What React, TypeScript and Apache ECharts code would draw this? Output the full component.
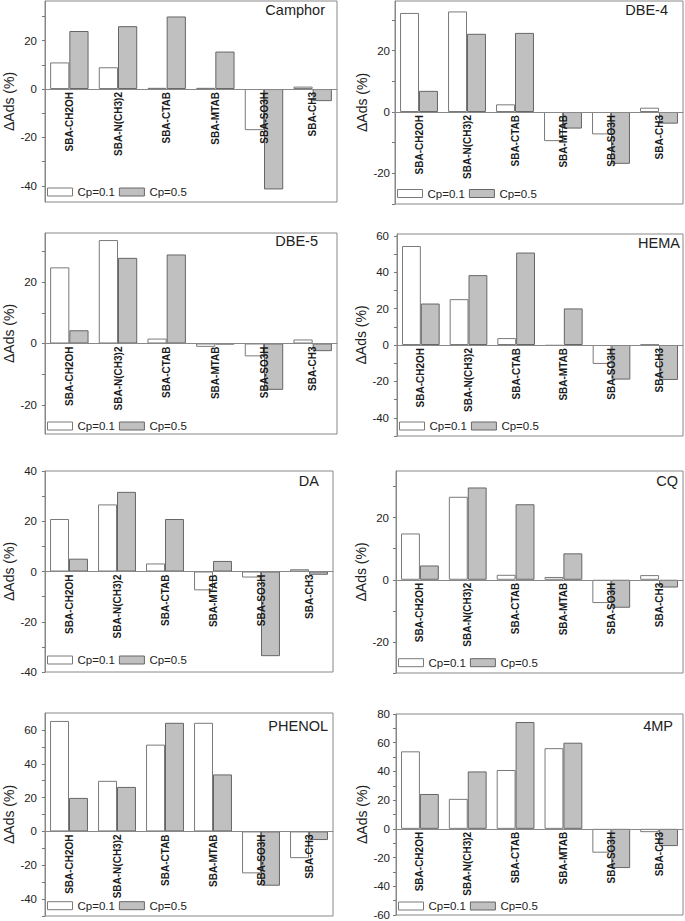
import React, { useEffect, useRef } from 'react';
import * as echarts from 'echarts';

const categories = ['SBA-CH2OH', 'SBA-N(CH3)2', 'SBA-CTAB', 'SBA-MTAB', 'SBA-SO3H', 'SBA-CH3'];
const seriesNames = ['Cp=0.1', 'Cp=0.5'];
const panelTitles = ['Camphor', 'DBE-4', 'DBE-5', 'HEMA', 'DA', 'CQ', 'PHENOL', '4MP'];
const yAxisName = 'ΔAds (%)';

const camphorCp01 = [11, 9, 0.5, 0.5, -17, 1];
const camphorCp05 = [24, 26, 30, 15.5, -41.5, -5];
const dbe4Cp01 = [32.3, 32.8, 2.5, -9.5, -7.3, 1.4];
const dbe4Cp05 = [6.9, 25.5, 25.8, -5.4, -16.9, -3.8];
const dbe5Cp01 = [24.8, 33.7, 1.6, -1.1, -4.2, 1.3];
const dbe5Cp05 = [4.3, 27.9, 29, -0.3, -15.1, -2.5];
const hemaCp01 = [54.4, 25.2, 3.8, -0.4, -10.4, 0.2];
const hemaCp05 = [22.8, 38.4, 50.8, 20.1, -19, -19.2];
const daCp01 = [20.9, 26.7, 3.2, -7.5, -2.4, 0.9];
const daCp05 = [5.1, 31.7, 20.9, 4.2, -33.7, -1.3];
const cqCp01 = [14.9, 26.7, 1.6, 0.9, -7.5, 1.5];
const cqCp05 = [4.6, 29.7, 24.3, 8.5, -9, -2.5];
const phenolCp01 = [65.3, 29.9, 51.3, 64.2, -24.8, -15.8];
const phenolCp05 = [19.8, 26.3, 64.2, 33.7, -32.1, -5.1];
const mp4Cp01 = [54, 20.9, 41, 56.2, -16.6, -2.3];
const mp4Cp05 = [24.3, 40, 74.4, 60, -27.3, -12];

const panelCp01 = [camphorCp01, dbe4Cp01, dbe5Cp01, hemaCp01, daCp01, cqCp01, phenolCp01, mp4Cp01];
const panelCp05 = [camphorCp05, dbe4Cp05, dbe5Cp05, hemaCp05, daCp05, cqCp05, phenolCp05, mp4Cp05];

const yMins = [-46.7, -30, -29.5, -50, -40, -30, -50, -60];
const yMaxs = [36.4, 36.2, 36, 61, 40, 35, 70, 80];

const majorTickLabels = [
  [-40, -20, 0, 20],
  [-20, 0, 20],
  [-20, 0, 20],
  [-40, -20, 0, 20, 40, 60],
  [-40, -20, 0, 20, 40],
  [-20, 0, 20],
  [-40, -20, 0, 20, 40, 60],
  [-60, -40, -20, 0, 20, 40, 60, 80],
];
const minorTickValues = [
  [-30, -10, 10, 30],
  [-30, -10, 10, 30],
  [-10, 10, 30],
  [-50, -30, -10, 10, 30, 50],
  [-30, -10, 10, 30],
  [-30, -10, 10, 30],
  [-50, -30, -10, 10, 30, 50],
  [-50, -30, -10, 10, 30, 50, 70],
];

// layout: [left, top, right, bottom] of each frame in px
const frames = [
  [45, 1, 337, 202],
  [395, 1, 683, 204],
  [45, 233, 337, 434],
  [397, 234, 683, 436],
  [45, 471, 333, 672],
  [396, 471, 683, 673],
  [45, 713, 333, 916],
  [396, 714, 683, 916],
];
const labelMargins = [8, 5, 8, 8, 8, 7, 8, 6];
const nameGaps = [23, 20, 23, 21, 24.5, 20.5, 23.5, 22];
const titleRights = [360, 17, 367, 5, 366, 7, 357, 12];
const titleCenters = [10.7, 10.7, 241.7, 244, 481.7, 481.7, 726.7, 726.7];
const legendOffsets = [9, 9.5, 7, 9, 11, 9.3, 9.3, 9];

const FONT = '"Liberation Sans", Arial, Helvetica, sans-serif';
const W = 685;
const H = 921;

export default function App() {
  const ref = useRef<HTMLDivElement>(null);

  useEffect(() => {
    if (!ref.current) return;
    const chart = echarts.init(ref.current, undefined, { renderer: 'svg' });

    const grid: any[] = [];
    const xAxis: any[] = [];
    const yAxis: any[] = [];
    const series: any[] = [];
    const legend: any[] = [];
    const title: any[] = [];

    const styleCp01 = { color: '#ffffff', borderColor: '#7a7a7a', borderWidth: 1 };
    const styleCp05 = { color: '#c0c0c0', borderColor: '#666666', borderWidth: 1 };

    const labelData = categories.map((c) => [c, 0]);

    frames.forEach((f, i) => {
      const [l, t, r, b] = f;
      grid.push({
        left: l,
        top: t,
        width: r - l,
        height: b - t,
        show: true,
        borderColor: '#888',
        borderWidth: 1,
        backgroundColor: 'transparent',
      });
      xAxis.push({
        type: 'category',
        gridIndex: i,
        data: categories,
        z: 5,
        axisLine: { show: true, onZero: true, lineStyle: { color: '#888', width: 1 } },
        axisTick: { show: false },
        axisLabel: { show: false },
        splitLine: { show: false },
      });
      yAxis.push({
        type: 'value',
        gridIndex: i,
        min: yMins[i],
        max: yMaxs[i],
        name: yAxisName,
        nameLocation: 'middle',
        nameGap: nameGaps[i],
        nameTextStyle: { fontSize: 14, fontFamily: FONT, color: '#222' },
        splitLine: { show: false },
        axisLine: { show: true, lineStyle: { color: '#888', width: 1 } },
        axisTick: {
          show: true,
          length: 3,
          customValues: [...majorTickLabels[i], ...minorTickValues[i]],
          lineStyle: { color: '#777' },
        },
        axisLabel: {
          customValues: majorTickLabels[i],
          fontSize: 11.5,
          fontFamily: FONT,
          color: '#222',
          margin: labelMargins[i],
        },
      });
      series.push({
        type: 'bar',
        name: seriesNames[0],
        xAxisIndex: i,
        yAxisIndex: i,
        data: panelCp01[i],
        barGap: '0%',
        barCategoryGap: '21%',
        itemStyle: styleCp01,
      });
      series.push({
        type: 'bar',
        name: seriesNames[1],
        xAxisIndex: i,
        yAxisIndex: i,
        data: panelCp05[i],
        barGap: '0%',
        barCategoryGap: '21%',
        itemStyle: styleCp05,
      });
      series.push({
        type: 'custom',
        name: 'categoryLabels' + i,
        xAxisIndex: i,
        yAxisIndex: i,
        data: labelData,
        z: 6,
        silent: true,
        clip: false,
        renderItem: (params: any, api: any) => {
          const idx = api.value(0);
          const p = api.coord([idx, 0]);
          return {
            type: 'text',
            x: p[0],
            y: p[1] + 3,
            rotation: Math.PI / 2,
            style: {
              text: categories[idx],
              align: 'right',
              verticalAlign: 'middle',
              font: 'bold 10px ' + FONT,
              fill: '#1a1a1a',
            },
          };
        },
      });
      legend.push({
        left: l + 2,
        top: b - legendOffsets[i] - 7,
        orient: 'horizontal',
        padding: 0,
        itemWidth: 25,
        itemHeight: 8,
        itemGap: 4,
        selectedMode: false,
        icon: 'rect',
        textStyle: { fontSize: 11.5, fontFamily: FONT, color: '#222' },
        data: [
          { name: seriesNames[0], itemStyle: styleCp01 },
          { name: seriesNames[1], itemStyle: styleCp05 },
        ],
      });
      title.push({
        text: panelTitles[i],
        right: titleRights[i],
        top: titleCenters[i] - 8.5,
        padding: 0,
        textStyle: { fontSize: 14.5, fontWeight: 'normal', fontFamily: FONT, color: '#222' },
      });
    });

    chart.setOption({
      animation: false,
      backgroundColor: '#ffffff',
      textStyle: { fontFamily: FONT },
      grid,
      xAxis,
      yAxis,
      series,
      legend,
      title,
    });

    return () => {
      chart.dispose();
    };
  }, []);

  return (
    <div
      ref={ref}
      style={{ position: 'absolute', left: 0, top: 0, width: W, height: H, background: '#fff' }}
    />
  );
}
